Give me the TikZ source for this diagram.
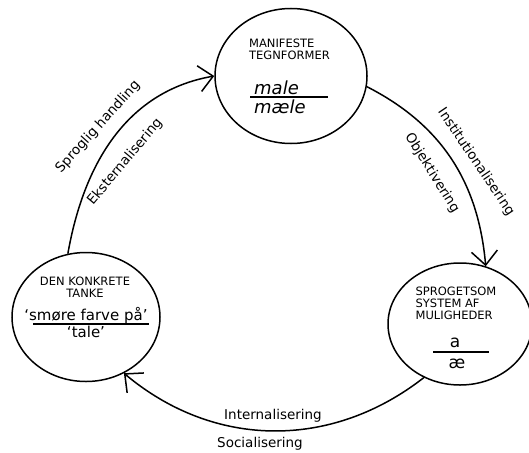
\documentclass[tikz,border=0pt]{standalone}
\usepackage{fontspec}
\setmainfont{DejaVu Sans}
\usetikzlibrary{arrows.meta,shapes.geometric,positioning}
\tikzstyle{bubble} = [ellipse, draw, line width=1.5pt, inner sep=0pt]
\tikzstyle{caps} = [font=\fontsize{11.5}{12}\selectfont, align=left, inner sep=0pt]
\tikzstyle{word} = [font=\fontsize{18}{18}\selectfont\itshape, inner sep=0pt]
\tikzstyle{quote} = [font=\fontsize{15}{15}\selectfont, inner sep=0pt]
\tikzstyle{letter} = [font=\fontsize{17}{17}\selectfont, inner sep=0pt]
\tikzstyle{arclabel} = [font=\fontsize{13.5}{14}\selectfont, inner sep=0pt]
\tikzstyle{cycle} = [line width=1.5pt, -{Straight Barb[length=14pt,width=26pt,line width=1.5pt]}]

\begin{document}
\begin{tikzpicture}[x=1pt, y=-1pt]
\useasboundingbox (0,0) rectangle (529,452);

% Circles
\node (form) [bubble, minimum width=152pt, minimum height=135pt] at (291,76) {};
\node (tanke) [bubble, minimum width=148pt, minimum height=129pt] at (86,317) {};
\node (system) [bubble, minimum width=144pt, minimum height=122pt] at (460,324) {};

% Text in the circles
\node (formtitle) [caps] at (289.5,49) {MANIFESTE\\TEGNFORMER};
\node (male) [word, anchor=base west] at (254,94) {male};
\node (maele) [word, anchor=base west] at (254,113) {mæle};
\draw[line width=1.5pt] (250,97) -- (328,97);

\node (tanketitle) [caps, align=center] at (85,287) {DEN KONKRETE\\TANKE};
\node (smoere) [quote, anchor=base] at (86,320) {‘smøre farve på’};
\node (tale) [quote, anchor=base] at (86,337) {‘tale’};
\draw[line width=1.2pt] (33,324) -- (149,324);

\node (systemtitle) [caps] at (456,303.5) {SPROGETSOM\\SYSTEM AF\\MULIGHEDER};
\node (a) [letter, anchor=base] at (455,347) {a};
\node (ae) [letter, anchor=base] at (457,368) {æ};
\draw[line width=1.5pt] (433,352) -- (489,352);

% Arrows
\draw[cycle] (tanke.106) to[out=80, in=190] (form.west);
\draw[cycle] (form.-8) to[out=-27, in=95] (system.66);
\draw[cycle] (system.236) to[out=218, in=-40] (tanke.304);

% Labels along the arrows
\node (sproglig) [arclabel, rotate=48] at (98,127) {Sproglig handling};
\node (ekstern) [arclabel, rotate=50] at (125,162) {Eksternalisering};
\node (institution) [arclabel, rotate=-56] at (476,162) {Institutionalisering};
\node (objektiv) [arclabel, rotate=-58] at (432,173) {Objektivering};
\node (internal) [arclabel] at (273,416) {Internalisering};
\node (social) [arclabel] at (260,444) {Socialisering};
\end{tikzpicture}
\end{document}
